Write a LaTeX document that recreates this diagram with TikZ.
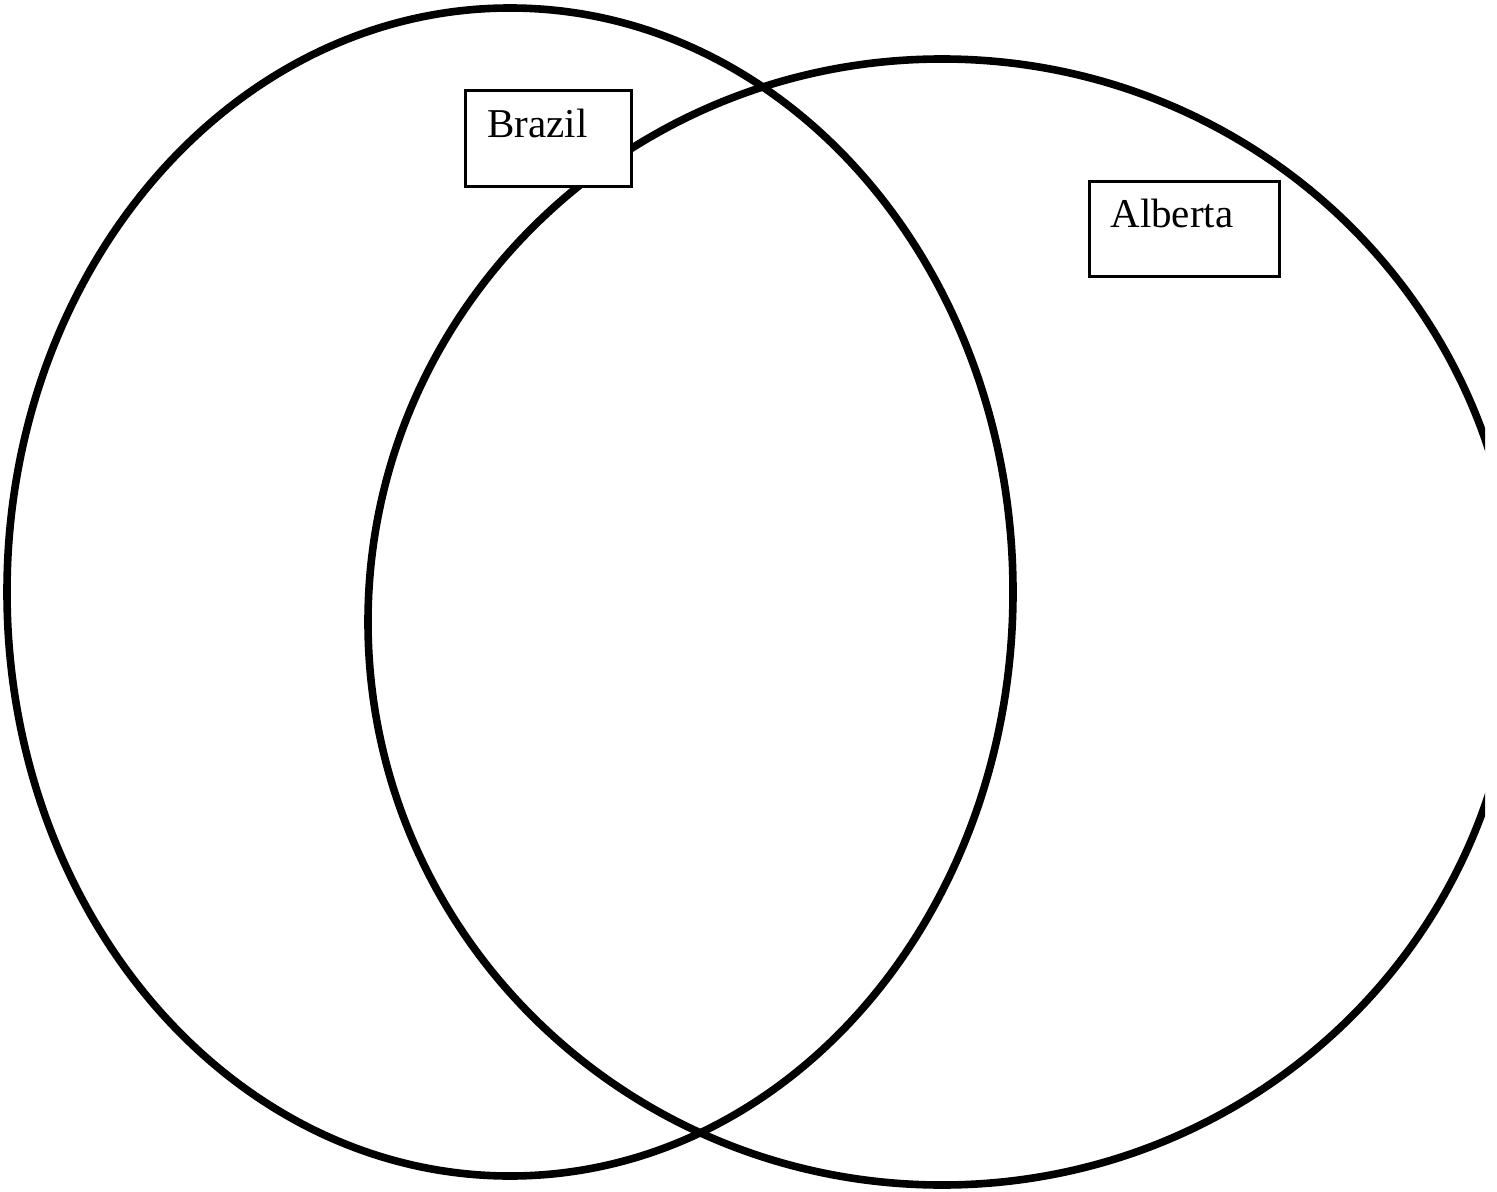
\documentclass[tikz,border=0pt]{standalone}
\usepackage{fontspec}
\setmainfont{Liberation Serif}
\usetikzlibrary{positioning}

\begin{document}
\begin{tikzpicture}[
    x=0.5pt, y=-0.5pt,
    ring/.style={
        draw,
        line width=3.8pt
    },
    tagbox/.style={
        draw,
        rectangle,
        fill=white,
        line width=1.3pt,
        inner sep=0pt,
        anchor=north west
    },
    tagtext/.style={
        font=\fontsize{20.5}{24}\selectfont,
        inner sep=0pt,
        anchor=base west
    }
]
\useasboundingbox (0,0) rectangle (1497,1192);

% The two sets
\draw[ring] (510,592) ellipse [x radius=503, y radius=584];
\begin{scope}
    \clip (0,0) rectangle (1485,1192);
    \draw[ring] (942,622) ellipse [x radius=574, y radius=563];
\end{scope}

% Set labels
\node[tagbox, minimum width=83pt, minimum height=48pt] (brazilbox) at (464,89) {};
\node[tagtext] (brazil) at ([shift={(23,49)}]brazilbox.north west) {Brazil};

\node[tagbox, minimum width=95pt, minimum height=47.5pt] (albertabox) at (1088,180) {};
\node[tagtext] (alberta) at ([shift={(22,48)}]albertabox.north west) {Alberta};

\end{tikzpicture}
\end{document}
